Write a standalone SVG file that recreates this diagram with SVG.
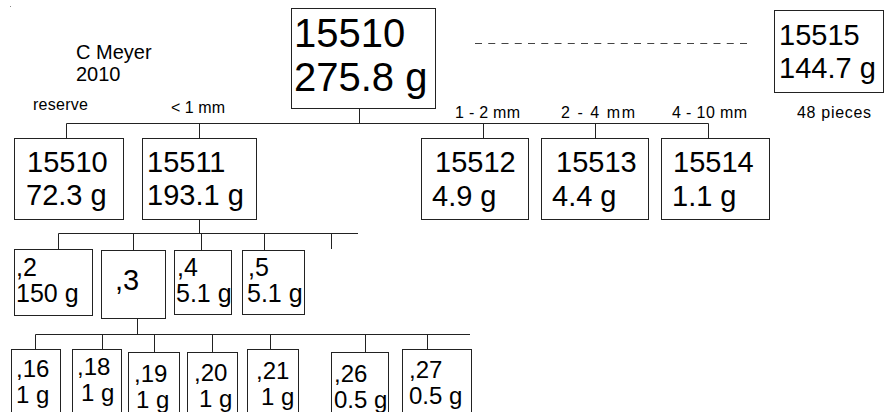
<svg xmlns="http://www.w3.org/2000/svg" width="889" height="412" viewBox="0 0 889 412">
<style>
text{font-family:"Liberation Sans",Arial,sans-serif;fill:#000}
.box{fill:#fff;stroke:#222;stroke-width:1}
.ln{stroke:#222;stroke-width:1;fill:none}
.f40{font-size:40px}
.f29{font-size:29px}
.f25{font-size:25px}
.f24{font-size:24px}
.f20{font-size:20px}
.lab{font-size:16px}
</style>
<rect width="889" height="412" fill="#fff"/>
<rect x="10" y="6" width="1" height="1" fill="#888"/>
<g id="connectors">
<path class="ln" d="M359.5 108V123.5M66.5 123.5H708.5M66.5 123.5V138M199.5 123.5V138M483.5 123.5V138M595.5 123.5V138M708.5 123.5V138"/>
<path class="ln" d="M199.5 219V233.5M58.5 233.5H358M58.5 233.5V249M133.5 233.5V250M201.5 233.5V250M264.5 233.5V250M331.5 233.5V249"/>
<path class="ln" d="M137.5 318V334.5M35.5 334.5H470M35.5 334.5V349M102.5 334.5V349M154.5 334.5V352M212.5 334.5V352M270.5 334.5V349M365.5 334.5V352M427.5 334.5V349"/>
<line x1="475" y1="43.5" x2="753" y2="43.5" stroke="#444" stroke-width="1" stroke-dasharray="7 6.25"/>
</g>
<g id="labels">
<text class="f20" x="76" y="59">C Meyer</text>
<text class="f20" x="76" y="81">2010</text>
<text class="lab" x="33" y="110" textLength="55" lengthAdjust="spacing">reserve</text>
<text class="lab" x="171" y="113" textLength="54" lengthAdjust="spacing">&lt; 1 mm</text>
<text class="lab" x="455" y="118" textLength="65" lengthAdjust="spacing">1 - 2 mm</text>
<text class="lab" x="561" y="118" textLength="74" lengthAdjust="spacing">2 - 4 mm</text>
<text class="lab" x="672" y="118" textLength="75" lengthAdjust="spacing">4 - 10 mm</text>
<text class="lab" x="797" y="118" textLength="74" lengthAdjust="spacing">48 pieces</text>
</g>
<g id="n15510top"><rect class="box" x="291.5" y="8.5" width="144" height="100"/><text class="f40" x="294" y="47">15510</text><text class="f40" x="294" y="91">275.8 g</text></g>
<g id="n15515"><rect class="box" x="774.5" y="10.5" width="109" height="82"/><text class="f29" x="779" y="45">15515</text><text class="f29" x="779" y="78">144.7 g</text></g>
<g id="n15510"><rect class="box" x="14.5" y="138.5" width="109" height="81"/><text class="f29" x="27" y="172">15510</text><text class="f29" x="26" y="205">72.3 g</text></g>
<g id="n15511"><rect class="box" x="142.5" y="138.5" width="114" height="81"/><text class="f29" x="147" y="172">15511</text><text class="f29" x="147" y="205">193.1 g</text></g>
<g id="n15512"><rect class="box" x="421.5" y="138.5" width="107" height="81"/><text class="f29" x="435" y="172">15512</text><text class="f29" x="432" y="206">4.9 g</text></g>
<g id="n15513"><rect class="box" x="541.5" y="138.5" width="107" height="81"/><text class="f29" x="556" y="172">15513</text><text class="f29" x="552" y="206">4.4 g</text></g>
<g id="n15514"><rect class="box" x="661.5" y="138.5" width="108" height="81"/><text class="f29" x="673" y="172">15514</text><text class="f29" x="672" y="206">1.1 g</text></g>
<g id="n2"><rect class="box" x="14.5" y="249.5" width="78" height="66"/><text class="f25" x="16" y="276">,2</text><text class="f25" x="16" y="302">150 g</text></g>
<g id="n3"><rect class="box" x="101.5" y="250.5" width="64" height="68"/><text class="f29" x="115" y="290">,3</text></g>
<g id="n4"><rect class="box" x="174.5" y="250.5" width="57" height="64"/><text class="f25" x="177" y="276">,4</text><text class="f25" x="176" y="302">5.1 g</text></g>
<g id="n5"><rect class="box" x="242.5" y="250.5" width="62" height="64"/><text class="f25" x="248" y="276">,5</text><text class="f25" x="247" y="302">5.1 g</text></g>
<g id="n16"><rect class="box" x="11.5" y="349.5" width="49" height="70"/><text class="f24" x="16" y="377">,16</text><text class="f24" x="16" y="403">1 g</text></g>
<g id="n18"><rect class="box" x="72.5" y="349.5" width="49" height="70"/><text class="f24" x="77" y="375">,18</text><text class="f24" x="81" y="401">1 g</text></g>
<g id="n19"><rect class="box" x="128.5" y="352.5" width="51" height="70"/><text class="f24" x="134" y="382">,19</text><text class="f24" x="136" y="408">1 g</text></g>
<g id="n20"><rect class="box" x="187.5" y="352.5" width="50" height="70"/><text class="f24" x="194" y="381">,20</text><text class="f24" x="199" y="407">1 g</text></g>
<g id="n21"><rect class="box" x="247.5" y="349.5" width="51" height="70"/><text class="f24" x="256" y="379">,21</text><text class="f24" x="261" y="405">1 g</text></g>
<g id="n26"><rect class="box" x="331.5" y="352.5" width="57" height="70"/><text class="f24" x="334" y="382">,26</text><text class="f24" x="334" y="408">0.5 g</text></g>
<g id="n27"><rect class="box" x="402.5" y="349.5" width="69" height="70"/><text class="f24" x="409" y="378">,27</text><text class="f24" x="409" y="404">0.5 g</text></g>
</svg>
